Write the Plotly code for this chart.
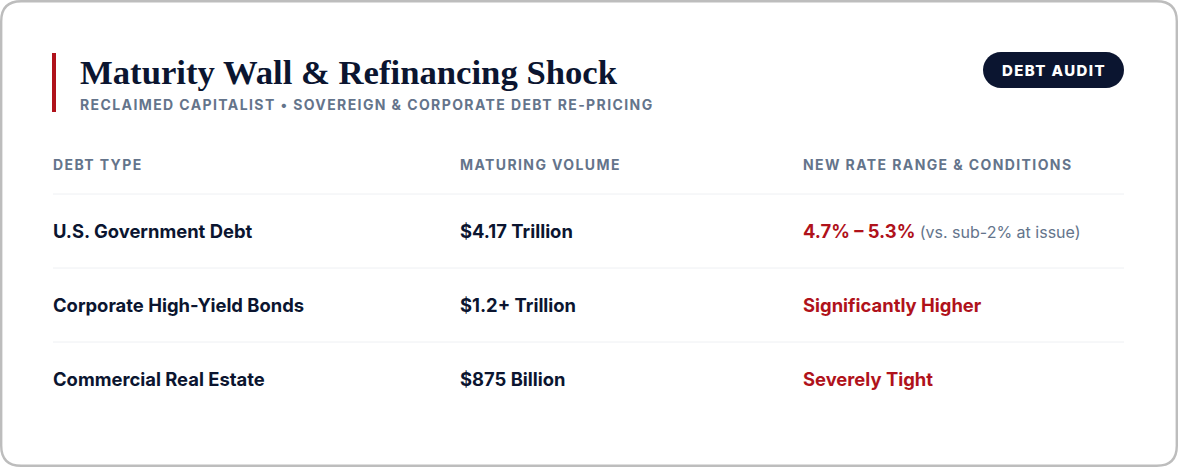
import plotly.graph_objects as go

# table content
headers = ['DEBT TYPE', 'MATURING VOLUME', 'NEW RATE RANGE & CONDITIONS']
debt_types = ['U.S. Government Debt', 'Corporate High-Yield Bonds', 'Commercial Real Estate']
volumes = ['$4.17 Trillion', '$1.2+ Trillion', '$875 Billion']
rate_main = ['4.7% – 5.3%', 'Significantly Higher', 'Severely Tight']
rate_note = ['(vs. sub-2% at issue)', '', '']

title = 'Maturity Wall &amp; Refinancing Shock'
subtitle = 'RECLAIMED CAPITALIST • SOVEREIGN &amp; CORPORATE DEBT RE-PRICING'
badge = 'DEBT AUDIT'

W, H = 1178, 467
NAVY = '#0b1530'
SLATE = '#64748b'
RED = '#b0121b'
SANS = 'Inter, Roboto, sans-serif'

col_x = [53, 460, 803]
header_y = 164
row_y0, row_step = 231, 74

fig = go.Figure()

shapes = []
annotations = []


def rounded_rect(x0, y0, x1, y1, r):
    return (f'M {x0 + r},{y0} L {x1 - r},{y0} Q {x1},{y0} {x1},{y0 + r} '
            f'L {x1},{y1 - r} Q {x1},{y1} {x1 - r},{y1} '
            f'L {x0 + r},{y1} Q {x0},{y1} {x0},{y1 - r} L {x0},{y0 + r} Q {x0},{y0} {x0 + r},{y0} Z')


# card
shapes.append(dict(type='path', path=rounded_rect(1.2, 1.2, W - 1.2, H - 1.2, 20),
                   line=dict(color='#bdbdbd', width=2.4), fillcolor='white', layer='below'))

# accent bar
shapes.append(dict(type='line', x0=54, x1=54, y0=53, y1=112,
                   line=dict(color=RED, width=4)))

# badge pill
bx0, bx1, by0, by1 = 983, 1124, 52, 88
br = (by1 - by0) / 2
k = br * 0.5523
shapes.append(dict(
    type='path',
    path=(f'M {bx0 + br},{by0} L {bx1 - br},{by0} '
          f'C {bx1 - br + k},{by0} {bx1},{by0 + br - k} {bx1},{by0 + br} '
          f'C {bx1},{by0 + br + k} {bx1 - br + k},{by1} {bx1 - br},{by1} '
          f'L {bx0 + br},{by1} '
          f'C {bx0 + br - k},{by1} {bx0},{by1 - br + k} {bx0},{by1 - br} '
          f'C {bx0},{by0 + br - k} {bx0 + br - k},{by0} {bx0 + br},{by0} Z'),
    line=dict(width=0), fillcolor=NAVY))
annotations.append(dict(x=(bx0 + bx1) / 2, y=(by0 + by1) / 2 + 0.5,
                        text=f"<span style='letter-spacing:1.4px'>{badge}</span>",
                        showarrow=False, xanchor='center', yanchor='middle',
                        font=dict(family=SANS, size=15, color='white', weight=800)))

# title + subtitle
annotations.append(dict(x=78, y=72, text=title, showarrow=False, xanchor='left', yanchor='middle',
                        font=dict(family='Liberation Serif, serif', size=34.7, color=NAVY, weight=700)))
annotations.append(dict(x=78, y=104, text=f"<span style='letter-spacing:1.4px'>{subtitle}</span>",
                        showarrow=False, xanchor='left', yanchor='middle',
                        font=dict(family=SANS, size=14, color=SLATE, weight=700)))

# column headers
for x, h in zip(col_x, headers):
    annotations.append(dict(x=x - 2, y=header_y, text=f"<span style='letter-spacing:1.4px'>{h}</span>",
                            showarrow=False, xanchor='left', yanchor='middle',
                            font=dict(family=SANS, size=14, color=SLATE, weight=700)))

# rows
for i, (d, v, m, n) in enumerate(zip(debt_types, volumes, rate_main, rate_note)):
    y = row_y0 + i * row_step
    sep = y - 37
    shapes.append(dict(type='line', x0=53, x1=1124, y0=sep, y1=sep,
                       line=dict(color='#eef0f3', width=1)))
    annotations.append(dict(x=col_x[0] - 2, y=y, text=d, showarrow=False, xanchor='left', yanchor='middle',
                            font=dict(family=SANS, size=18.4, color=NAVY, weight=700)))
    annotations.append(dict(x=col_x[1] - 2, y=y, text=v, showarrow=False, xanchor='left', yanchor='middle',
                            font=dict(family=SANS, size=18.4, color=NAVY, weight=700)))
    txt = m
    if n:
        txt += f" <span style='color:{SLATE};font-size:16px;font-weight:400'>{n}</span>"
    annotations.append(dict(x=col_x[2] - 2, y=y, text=txt, showarrow=False, xanchor='left', yanchor='middle',
                            font=dict(family=SANS, size=18.4, color=RED, weight=700)))

fig.update_layout(
    width=W, height=H,
    margin=dict(l=0, r=0, t=0, b=0),
    paper_bgcolor='white', plot_bgcolor='white',
    xaxis=dict(range=[0, W], visible=False, fixedrange=True),
    yaxis=dict(range=[H, 0], visible=False, fixedrange=True),
    shapes=shapes, annotations=annotations,
    showlegend=False,
)

fig.write_html('out.html', config={'displayModeBar': False},
               post_script="document.body.style.margin='0';")
